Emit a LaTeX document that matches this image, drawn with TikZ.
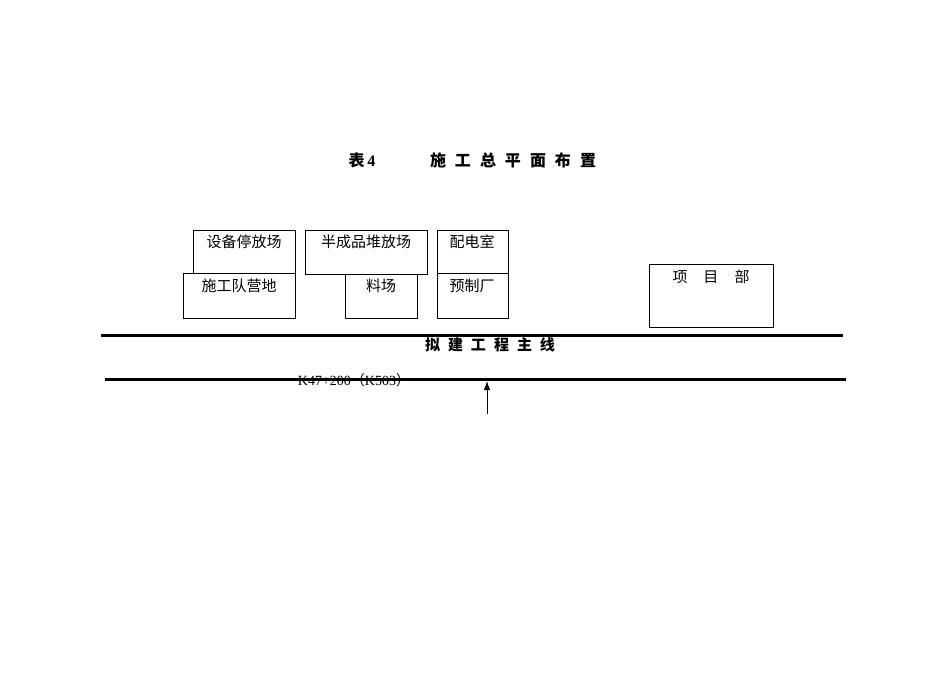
\documentclass[tikz,border=0pt]{standalone}
\usepackage{fontspec}
\setmainfont{Liberation Serif}
\newfontfamily\cjk{Noto Sans CJK SC}
\usetikzlibrary{arrows.meta}
\tikzset{
  area/.style={draw=black, line width=0.8pt, inner sep=0pt},
  boxtext/.style={font=\cjk\fontsize{15}{17}\selectfont, inner sep=0pt},
  road/.style={line width=2.6pt},
  heading/.style={font=\cjk\bfseries\fontsize{16}{18}\selectfont, inner sep=0pt},
}
\newcommand{\gp}[1]{\hspace{#1pt}}
\begin{document}
\begin{tikzpicture}[x=1pt,y=-1pt]
\useasboundingbox (0,0) rectangle (950,672);
% title
\node[heading] (t1) at (362,160) {表\fontspec{Liberation Serif}\bfseries\,4};
\node[heading] (t2) at (513,160) {施\gp{9}工\gp{9}总\gp{9}平\gp{9}面\gp{9}布\gp{9}置};
% boxes
\draw[area] (193,230) rectangle (295,273);
\draw[area] (183,273) rectangle (295,318);
\draw[area] (305,230) rectangle (427,274);
\draw[area] (345,274) rectangle (417,318);
\draw[area] (437,230) rectangle (508,273);
\draw[area] (437,273) rectangle (508,318);
\draw[area] (649,264) rectangle (773,327);
\node[boxtext] (b1) at (244,242) {设备停放场};
\node[boxtext] (b2) at (239,286) {施工队营地};
\node[boxtext] (b3) at (366,242) {半成品堆放场};
\node[boxtext] (b4) at (381,286) {料场};
\node[boxtext] (b5) at (472,242) {配电室};
\node[boxtext] (b6) at (472,286) {预制厂};
\node[boxtext] (b7) at (711,277) {项\gp{16}目\gp{16}部};
% road lines
\coordinate (r1a) at (101,335.5);
\coordinate (r1b) at (843,335.5);
\coordinate (r2a) at (105,379.5);
\coordinate (r2b) at (846,379.5);
\draw[road] (r1a) -- (r1b);
\node[heading, font=\cjk\bfseries\fontsize{15}{17}\selectfont] (main) at (490,345) {拟\gp{8}建\gp{8}工\gp{8}程\gp{8}主\gp{8}线};
\node[inner sep=0pt, font=\fontsize{14}{16}\selectfont] (km) at (354,380) {K47+200{\cjk（}K503{\cjk）}};
\draw[road] (r2a) -- (r2b);
% arrow
\coordinate (ab) at (487,414);
\coordinate (at) at (487,381);
\draw[line width=0.9pt, -{Latex[length=9pt,width=6.5pt]}] (ab) -- (at);
\end{tikzpicture}
\end{document}
